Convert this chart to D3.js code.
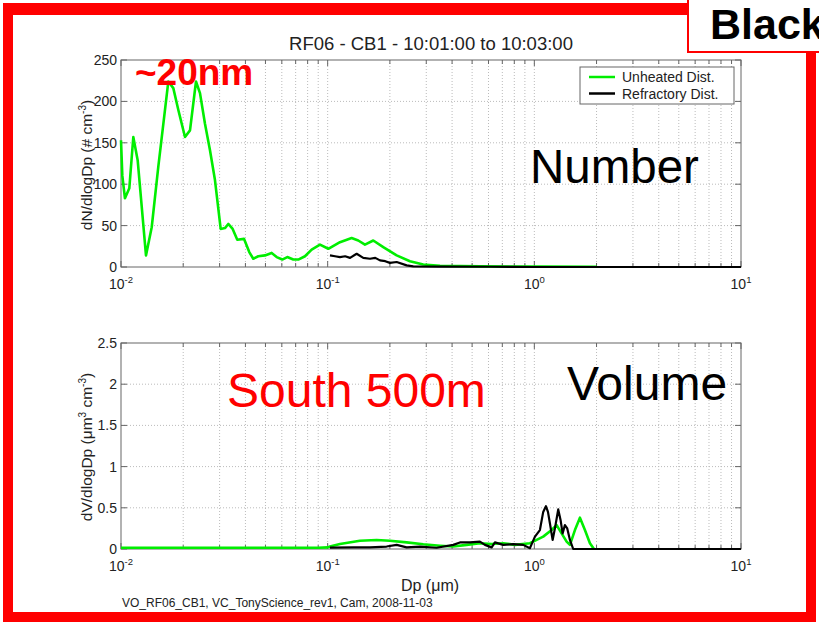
<!DOCTYPE html>
<html>
<head>
<meta charset="utf-8">
<script src="https://cdn.jsdelivr.net/npm/d3@7"></script>
<style>
  body { margin: 0; background: #fff; }
  text { font-family: "Liberation Sans", Arial, sans-serif; }
</style>
</head>
<body>
<div class="chart"></div>
<script>
// Define SVG area dimensions
var svgWidth = 819;
var svgHeight = 625;

// Data (Dp in um)
var numUnheatedDp = [0.0100, 0.01015, 0.01045, 0.01097, 0.01147, 0.01204, 0.01321, 0.01408, 0.01515, 0.01694,
  0.01791, 0.01893, 0.0204, 0.02157, 0.02306, 0.02411, 0.02549, 0.02695, 0.02849, 0.03036,
  0.03185, 0.03304, 0.0347, 0.03653, 0.03936, 0.04175, 0.04365, 0.04616, 0.04972, 0.05357,
  0.05666, 0.06032, 0.06377, 0.06818, 0.07209, 0.07767, 0.08367, 0.0918, 0.1007, 0.1147,
  0.1306, 0.1406, 0.1515, 0.1662, 0.1858, 0.2157, 0.2501, 0.2901, 0.3494, 0.546, 1.064, 2.01];
var numUnheatedVal = [153, 110, 83, 95, 157, 129, 14, 48, 121, 224,
  216, 190, 157, 165, 224, 210, 173, 141, 105, 46,
  47, 52, 46, 33, 34, 18, 10, 13, 14, 17,
  12, 9, 12, 9, 9, 13, 21, 27, 22, 30,
  35, 32, 27, 32, 24, 14, 7, 3, 1.5, 0.8, 0.5, 0.3];

var numRefracDp = [0.1026, 0.1085, 0.1147, 0.1215, 0.1283, 0.1381, 0.1487, 0.1602, 0.1700, 0.1791,
  0.1900, 0.2001, 0.2157, 0.2411, 0.2595, 0.3494, 0.61, 1.0, 10];
var numRefracVal = [14, 13, 12, 13, 11, 16, 11, 10, 11, 8,
  7, 5, 6, 2, 0.8, 0.5, 0.3, 0, 0];

var volUnheatedDp = [0.01, 0.03, 0.06, 0.09, 0.1, 0.1026, 0.1147, 0.1433, 0.1726, 0.2001,
  0.2411, 0.2901, 0.3494, 0.4052, 0.4705, 0.5453, 0.6215, 0.7071, 0.806, 0.9522,
  1.026, 1.104, 1.212, 1.282, 1.355, 1.433, 1.487, 1.572, 1.662, 1.757, 1.858, 1.943];
var volUnheatedVal = [0.015, 0.015, 0.015, 0.015, 0.02, 0.03, 0.06, 0.1, 0.11, 0.1,
  0.08, 0.057, 0.04, 0.03, 0.05, 0.07, 0.06, 0.07, 0.05, 0.07,
  0.11, 0.15, 0.23, 0.29, 0.19, 0.09, 0.05, 0.23, 0.38, 0.23, 0.07, 0];

var volRefracDp = [0.1026, 0.133, 0.1602, 0.1928, 0.2157, 0.2411, 0.2796, 0.3367, 0.4052, 0.4366,
  0.4881, 0.5453, 0.5768, 0.6215, 0.6447, 0.7071, 0.7904, 0.8837, 0.9522, 1.007,
  1.064, 1.104, 1.138, 1.164, 1.19, 1.226, 1.258, 1.305, 1.34, 1.37,
  1.406, 1.443, 1.487, 1.542, 10];
var volRefracVal = [0.016, 0.02, 0.02, 0.03, 0.05, 0.02, 0.03, 0.015, 0.05, 0.08,
  0.08, 0.09, 0.05, 0.02, 0.08, 0.05, 0.06, 0.05, 0.01, 0.15,
  0.23, 0.45, 0.52, 0.45, 0.31, 0.11, 0.25, 0.48, 0.35, 0.19,
  0.29, 0.25, 0.11, 0, 0];

// Tick values and labels
var xMajorTicks = [0.01, 0.1, 1, 10];
var xTickExp = ["-2", "-1", "0", "1"];
var numYTicks = [0, 50, 100, 150, 200, 250];
var volYTicks = [0, 0.5, 1, 1.5, 2, 2.5];
var seriesNames = ["Unheated Dist.", "Refractory Dist."];
var seriesColors = ["#00ee00", "#000000"];

var plotLeft = 121;
var plotRight = 741;
var axisColor = "#666";

var svg = d3.select(".chart")
  .append("svg")
  .attr("width", svgWidth)
  .attr("height", svgHeight);

// Red frame
svg.append("rect").attr("x", 3).attr("y", 3).attr("width", 813).attr("height", 619).attr("fill", "#ff0000");
svg.append("rect").attr("x", 13).attr("y", 15).attr("width", 793).attr("height", 597).attr("fill", "#fff");

function zip(a, b) {
  return a.map(function(d, i) { return [d, b[i]]; });
}

function drawPanel(top, bottom, yTicks, yMax, series) {
  var x = d3.scaleLog().domain([0.01, 10]).range([plotLeft, plotRight]);
  var y = d3.scaleLinear().domain([0, yMax]).range([bottom, top]);
  var g = svg.append("g");
  var allX = x.ticks();

  // grid
  g.selectAll(".vgrid")
    .data(allX.filter(function(d) { return d > 0.0101 && d < 9.9; }))
    .enter().append("line")
    .attr("x1", function(d) { return x(d); }).attr("x2", function(d) { return x(d); })
    .attr("y1", top).attr("y2", bottom)
    .attr("stroke", "#bbb").attr("stroke-dasharray", "1,2");
  g.selectAll(".hgrid")
    .data(yTicks.slice(1, -1))
    .enter().append("line")
    .attr("x1", plotLeft).attr("x2", plotRight)
    .attr("y1", function(d) { return y(d); }).attr("y2", function(d) { return y(d); })
    .attr("stroke", "#bbb").attr("stroke-dasharray", "1,2");

  // inside ticks on all four sides
  allX.forEach(function(d) {
    var len = xMajorTicks.indexOf(+d.toPrecision(3)) >= 0 ? 6 : 4;
    g.append("line").attr("x1", x(d)).attr("x2", x(d)).attr("y1", bottom).attr("y2", bottom - len).attr("stroke", axisColor);
    g.append("line").attr("x1", x(d)).attr("x2", x(d)).attr("y1", top).attr("y2", top + len).attr("stroke", axisColor);
  });
  yTicks.forEach(function(d) {
    g.append("line").attr("x1", plotLeft).attr("x2", plotLeft + 6).attr("y1", y(d)).attr("y2", y(d)).attr("stroke", axisColor);
    g.append("line").attr("x1", plotRight).attr("x2", plotRight - 6).attr("y1", y(d)).attr("y2", y(d)).attr("stroke", axisColor);
  });

  g.append("rect")
    .attr("x", plotLeft).attr("y", top)
    .attr("width", plotRight - plotLeft).attr("height", bottom - top)
    .attr("fill", "none").attr("stroke", axisColor);

  // tick labels
  g.selectAll(".ylab")
    .data(yTicks)
    .enter().append("text")
    .attr("x", plotLeft - 4)
    .attr("y", function(d) { return y(d); })
    .attr("dy", "0.36em")
    .attr("text-anchor", "end")
    .attr("font-size", "14px")
    .attr("fill", "#222")
    .text(function(d) { return d; });

  var xl = g.selectAll(".xlab")
    .data(xMajorTicks)
    .enter().append("text")
    .attr("x", function(d) { return x(d); })
    .attr("y", bottom + 22)
    .attr("text-anchor", "middle")
    .attr("font-size", "14px")
    .attr("fill", "#222");
  xl.append("tspan").text("10");
  xl.append("tspan").attr("dy", -6).attr("font-size", "9.5px").text(function(d, i) { return xTickExp[i]; });

  // lines
  var line = d3.line()
    .x(function(d) { return x(d[0]); })
    .y(function(d) { return y(d[1]); });
  series.forEach(function(s, i) {
    g.append("path")
      .datum(s)
      .attr("d", line)
      .attr("fill", "none")
      .attr("stroke", seriesColors[i])
      .attr("stroke-width", i === 0 ? 2.6 : 2.2)
      .attr("stroke-linejoin", "round");
  });
  return g;
}

// Number panel
drawPanel(60, 267, numYTicks, 250, [zip(numUnheatedDp, numUnheatedVal), zip(numRefracDp, numRefracVal)]);
// Volume panel
drawPanel(343, 549, volYTicks, 2.5, [zip(volUnheatedDp, volUnheatedVal), zip(volRefracDp, volRefracVal)]);

// Legend
var legend = svg.append("g");
legend.append("rect")
  .attr("x", 580).attr("y", 67).attr("width", 154).attr("height", 37)
  .attr("fill", "#fff").attr("stroke", axisColor);
seriesNames.forEach(function(name, i) {
  var ly = 77 + i * 16.5;
  legend.append("line").attr("x1", 589).attr("x2", 615).attr("y1", ly).attr("y2", ly)
    .attr("stroke", seriesColors[i]).attr("stroke-width", 2.5);
  legend.append("text").attr("x", 622).attr("y", ly).attr("dy", "0.36em")
    .attr("font-size", "14px").attr("fill", "#222").text(name);
});

// Title and axis labels
svg.append("text")
  .attr("x", 431).attr("y", 50)
  .attr("text-anchor", "middle")
  .attr("font-size", "18.5px")
  .attr("fill", "#222")
  .text("RF06 - CB1 - 10:01:00 to 10:03:00");

var yl1 = svg.append("text")
  .attr("transform", "translate(92,165) rotate(-90)")
  .attr("text-anchor", "middle")
  .attr("font-size", "15.5px")
  .attr("fill", "#222");
yl1.append("tspan").text("dN/dlogDp (# cm");
yl1.append("tspan").attr("dy", -6).attr("font-size", "10px").text("-3");
yl1.append("tspan").attr("dy", 6).text(")");

var yl2 = svg.append("text")
  .attr("transform", "translate(92,447) rotate(-90)")
  .attr("text-anchor", "middle")
  .attr("font-size", "15.5px")
  .attr("fill", "#222");
yl2.append("tspan").text("dV/dlogDp (\u03bcm");
yl2.append("tspan").attr("dy", -6).attr("font-size", "10px").text("3");
yl2.append("tspan").attr("dy", 6).text(" cm");
yl2.append("tspan").attr("dy", -6).attr("font-size", "10px").text("-3");
yl2.append("tspan").attr("dy", 6).text(")");

svg.append("text")
  .attr("x", 430).attr("y", 591)
  .attr("text-anchor", "middle")
  .attr("font-size", "16px")
  .attr("fill", "#222")
  .text("Dp (\u03bcm)");

svg.append("text")
  .attr("x", 122).attr("y", 607)
  .attr("font-size", "12px")
  .attr("fill", "#222")
  .text("VO_RF06_CB1, VC_TonyScience_rev1, Cam, 2008-11-03");

// Annotations
svg.append("text").attr("x", 135).attr("y", 85)
  .attr("font-size", "37px").attr("font-weight", "bold").attr("fill", "#ff0000").text("~20nm");
svg.append("text").attr("x", 530).attr("y", 183)
  .attr("font-size", "47.5px").attr("fill", "#000").text("Number");
svg.append("text").attr("x", 227).attr("y", 407)
  .attr("font-size", "48px").attr("fill", "#ff0000").text("South 500m");
svg.append("text").attr("x", 567).attr("y", 400)
  .attr("font-size", "48px").attr("fill", "#000").text("Volume");

// "Black" box top right
svg.append("rect").attr("x", 688).attr("y", -3).attr("width", 150).attr("height", 55)
  .attr("fill", "#fff").attr("stroke", "#ff0000").attr("stroke-width", 2);
svg.append("text").attr("x", 710).attr("y", 39)
  .attr("font-size", "43px").attr("font-weight", "bold").attr("fill", "#000").text("Black");
</script>
</body>
</html>
